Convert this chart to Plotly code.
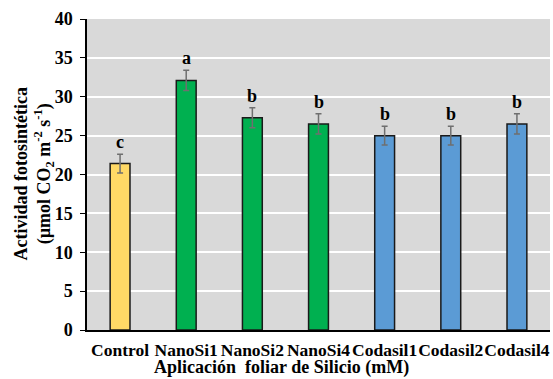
import plotly.graph_objects as go

categories = ["Control", "NanoSi1", "NanoSi2", "NanoSi4", "Codasil1", "Codasil2", "Codasil4"]
values = [21.4, 32.1, 27.3, 26.5, 25.0, 25.0, 26.5]
errors = [1.2, 1.3, 1.3, 1.3, 1.2, 1.2, 1.3]
letters = ["c", "a", "b", "b", "b", "b", "b"]
colors = ["#FFD966", "#00B050", "#00B050", "#00B050", "#5B9BD5", "#5B9BD5", "#5B9BD5"]
y_ticks = [0, 5, 10, 15, 20, 25, 30, 35, 40]

FONT = "Liberation Serif, Times New Roman, serif"

fig = go.Figure()
fig.add_trace(go.Bar(
    x=categories, y=values,
    marker=dict(color=colors, line=dict(color="#1a1a1a", width=1.5)),
    width=0.3,
    error_y=dict(type="data", array=errors, color="#6f6f6f", thickness=1.5, width=3),
))

for c, v, e, l in zip(categories, values, errors, letters):
    fig.add_annotation(x=c, y=v + e, text=l, showarrow=False,
                       yanchor="bottom", yshift=0,
                       font=dict(family=FONT, size=18, color="black", weight="bold"))

fig.add_annotation(xref="paper", yref="paper", x=0.42, y=0, yshift=-50,
                   text="Aplicación  foliar de Silicio (mM)", showarrow=False,
                   yanchor="bottom", font=dict(family=FONT, size=18, color="black", weight="bold"))

fig.add_annotation(xref="paper", yref="paper", x=0, xshift=-54, y=0.5,
                   text="Actividad fotosintética<br>(µmol CO<sub>2</sub> m<sup>-2</sup> s<sup>-1</sup>)",
                   showarrow=False, textangle=-90, xanchor="center", yanchor="middle",
                   font=dict(family=FONT, size=18, color="black", weight="bold"))

fig.update_layout(
    width=553, height=379,
    margin=dict(l=87, r=3, t=19, b=49),
    paper_bgcolor="white", plot_bgcolor="#D9D9D9",
    showlegend=False,
    font=dict(family=FONT, color="black"),
)
fig.update_xaxes(showline=True, linecolor="black", linewidth=1.5, tickangle=0,
                 tickfont=dict(family=FONT, size=17.5, color="black", weight="bold"),
                 ticks="", showgrid=False, automargin=False, ticklabelstandoff=3)
fig.update_yaxes(range=[0, 40], tickvals=y_ticks, showline=True, linecolor="black", linewidth=1.5,
                 ticks="outside", ticklen=5, tickcolor="black",
                 gridcolor="white", gridwidth=1.5, zeroline=False, automargin=False,
                 ticklabelstandoff=4,
                 tickfont=dict(family=FONT, size=18, color="black", weight="bold"))

fig.write_html("out.html", config={"displayModeBar": False},
               post_script="document.body.style.margin='0';")
